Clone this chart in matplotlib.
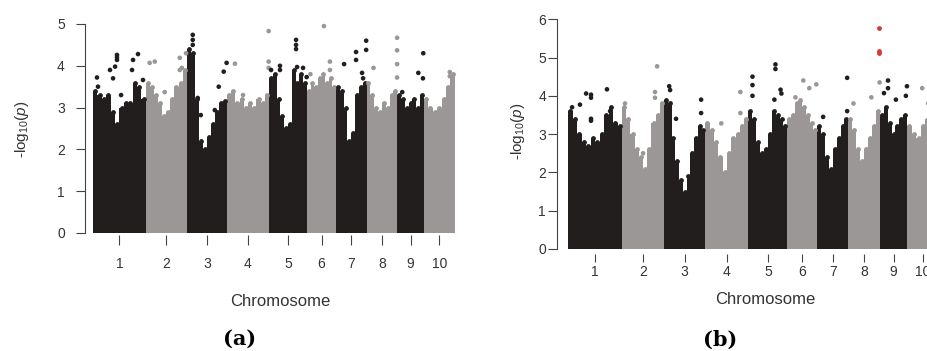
import numpy as np
import matplotlib
matplotlib.use("Agg")
import matplotlib.pyplot as plt

plt.rcParams["font.family"] = ["Liberation Sans", "DejaVu Sans"]
plt.rcParams["mathtext.fontset"] = "custom"
plt.rcParams["mathtext.rm"] = "Liberation Sans"
plt.rcParams["mathtext.it"] = "Liberation Sans:italic"

W, H = 928, 351
BLACK = "#221e1e"
GRAY = "#9a9796"
RED = "#d8392f"
TXT = "#333333"

CHROMS = [str(i) for i in range(1, 11)]
CHR_LEN = [308, 240, 235, 246, 222, 170, 178, 180, 155, 182]   # Mb

# upper edge of the dense point cloud, per chromosome (evenly spaced bins)
ENV_A = [
    [3.4, 3.3, 3.2, 3.3, 2.9, 2.6, 3.0, 3.1, 3.1, 3.6, 3.5, 3.2],
    [3.6, 3.5, 3.3, 3.1, 2.8, 2.9, 3.2, 3.5, 3.6, 3.9],
    [4.4, 4.3, 3.2, 2.2, 2.0, 2.3, 2.6, 2.9, 3.1, 3.15],
    [3.3, 3.4, 3.1, 3.2, 3.0, 3.1, 3.0, 3.2, 3.1, 3.3],
    [3.7, 3.8, 3.2, 2.8, 2.5, 2.6, 3.9, 3.6, 3.8, 3.6],
    [3.4, 3.6, 3.5, 3.7, 3.8, 3.6, 3.7, 3.5],
    [3.5, 3.4, 3.0, 2.2, 2.4, 3.3, 3.5, 3.6],
    [3.6, 3.3, 3.0, 2.9, 3.1, 3.0, 3.3, 3.4],
    [3.3, 3.2, 3.0, 3.1, 3.2, 3.0, 3.3],
    [3.2, 3.0, 2.9, 3.0, 3.2, 3.5, 3.8],
]
ENV_B = [
    [3.6, 3.4, 3.0, 2.8, 2.7, 2.9, 2.8, 3.0, 3.5, 3.7, 3.3, 3.2],
    [3.7, 3.4, 3.0, 2.6, 2.4, 2.1, 2.6, 3.3, 3.5, 3.8],
    [3.9, 3.8, 2.9, 2.3, 1.8, 1.5, 1.9, 2.5, 2.9, 3.2, 3.1],
    [3.3, 3.1, 2.8, 2.4, 2.0, 2.5, 2.9, 3.0, 3.2, 3.4],
    [3.6, 3.4, 2.8, 2.5, 2.6, 3.0, 3.6, 3.5, 3.4, 3.2],
    [3.4, 3.5, 3.8, 3.9, 3.7, 3.5, 3.3, 3.1],
    [3.2, 3.0, 2.4, 2.1, 2.6, 2.9, 3.2, 3.4],
    [3.4, 3.1, 2.6, 2.3, 2.6, 2.9, 3.2, 3.6],
    [3.5, 3.7, 3.3, 3.0, 3.2, 3.4, 3.5],
    [3.2, 3.0, 2.9, 3.2, 3.4, 3.1, 3.0],
]

# single SNPs standing above the cloud: chromosome, position (Mb), -log10(p)
OUT_A_CHR = [1]*13 + [2]*7 + [3]*9 + [4]*5 + [5]*9 + [6]*4 + [7]*7 + [8]*5 + [9]*4 + [10]*2
OUT_A_POS = [23, 29, 99, 117, 129, 140, 140, 140, 164, 228, 234, 263, 292,
             23, 53, 111, 199, 199, 236, 211,
             35, 35, 35, 64, 82, 164, 187, 216, 233,
             47, 244, 244, 244, 94,
             64, 64, 12, 158, 158, 158, 164, 199, 220,
             99, 134, 134, 20,
             47, 117, 117, 176, 176, 152, 158,
             41, 179, 179, 179, 179,
             152, 123, 150, 29,
             152, 152]
OUT_A_VAL = [3.72, 3.5, 3.9, 3.7, 3.98, 4.26, 4.2, 4.14, 3.3, 3.9, 4.14, 4.28, 3.66,
             4.07, 4.1, 3.37, 4.19, 3.9, 4.3, 3.95,
             4.74, 4.62, 4.5, 3.23, 2.82, 2.94, 3.5, 3.86, 4.07,
             4.05, 4.83, 4.1, 3.95, 3.3,
             4.0, 3.9, 3.9, 4.62, 4.5, 4.4, 3.97, 3.95, 3.73,
             4.95, 4.1, 3.9, 3.8,
             4.04, 4.33, 4.14, 4.6, 4.38, 3.83, 3.7,
             3.95, 4.67, 4.37, 4.04, 3.72,
             4.3, 3.83, 3.7, 3.37,
             3.85, 3.75]

OUT_B_CHR = [1]*9 + [2]*5 + [3]*6 + [4]*3 + [5]*8 + [6]*4 + [7]*3 + [8]*3 + [9]*6 + [10]*2
OUT_B_POS = [103, 131, 131, 68, 222, 131, 131, 23, 240,
             200, 188, 188, 120, 17,
             29, 34, 68, 211, 211, 114,
             200, 200, 91,
             23, 23, 23, 154, 154, 183, 188, 148,
             91, 125, 165, 46,
             171, 171, 34,
             29, 131, 178,
             46, 46, 23, 154, 148, 91,
             86, 120]
OUT_B_VAL = [4.06, 4.03, 3.95, 3.77, 4.17, 3.4, 3.35, 3.7, 3.6,
             4.77, 4.1, 3.95, 2.5, 3.8,
             4.25, 4.15, 3.4, 3.9, 3.55, 1.4,
             4.1, 3.55, 3.28,
             4.5, 4.28, 4.0, 4.82, 4.7, 4.16, 4.06, 3.9,
             4.4, 4.2, 4.3, 3.96,
             4.47, 3.6, 3.45,
             3.8, 3.96, 4.35,
             4.4, 4.2, 4.07, 4.25, 4.0, 3.9,
             4.2, 3.8]

# significant SNPs highlighted in (b)
SIG_CHR = [8, 8, 8]
SIG_POS = [176, 176, 176]
SIG_VAL = [5.78, 5.18, 5.12]

starts = np.concatenate([[0], np.cumsum(CHR_LEN)[:-1]])
mids = starts + np.array(CHR_LEN) / 2
total = sum(CHR_LEN)


def manhattan(ax, env, o_chr, o_pos, o_val):
    for c in range(10):
        col = BLACK if c % 2 == 0 else GRAY
        e = np.array(env[c])
        w = CHR_LEN[c] / len(e)
        xc = starts[c] + w * (np.arange(len(e)) + 0.5)
        ax.bar(xc, e, width=w, color=col, linewidth=0, zorder=2)
        ax.scatter(xc, e, s=12, color=col, linewidths=0, zorder=3)
    oc = np.array(o_chr) - 1
    ox = starts[oc] + np.array(o_pos)
    cols = [BLACK if c % 2 == 0 else GRAY for c in oc]
    ax.scatter(ox, o_val, s=11, c=cols, linewidths=0, zorder=4)


def style(ax, ymax, xoff, xlen, xpad, ylen, ypad):
    ax.set_ylim(0, ymax + 0.1)
    ax.spines[["top", "right"]].set_visible(False)
    ax.spines["bottom"].set_visible(False)
    ax.spines["bottom"].set_position(("outward", xoff))
    ax.spines["left"].set_bounds(0, ymax)
    ax.spines["left"].set_color("#444444")
    ax.spines["left"].set_linewidth(0.8)
    ax.set_xticks(mids)
    ax.set_xticklabels(CHROMS)
    ax.set_yticks(range(0, ymax + 1))
    ax.tick_params(axis="x", length=xlen, pad=xpad, width=0.8, color="#444444",
                   labelsize=10, labelcolor=TXT)
    ax.tick_params(axis="y", length=ylen, pad=ypad, width=0.8, color="#444444",
                   labelsize=10, labelcolor=TXT)
    ax.set_facecolor("none")


def fx(x):
    return x / W


def fy(y):
    return 1 - y / H


fig = plt.figure(figsize=(W / 100, H / 100), dpi=100)

# (a)
axa = fig.add_axes([fx(85), fy(233), 373 / W, 213.2 / H])
manhattan(axa, ENV_A, OUT_A_CHR, OUT_A_POS, OUT_A_VAL)
axa.set_xlim(-47, total + 18)
style(axa, 5, 1.5, 7.2, 8.6, 6.5, 8)

# (b) -- cut off at the right edge, as in the source
axb = fig.add_axes([fx(557), fy(249), 385 / W, 233.6 / H])
manhattan(axb, ENV_B, OUT_B_CHR, OUT_B_POS, OUT_B_VAL)
sc = np.array(SIG_CHR) - 1
axb.scatter(starts[sc] + np.array(SIG_POS), SIG_VAL, s=12, color=RED, linewidths=0, zorder=5)
axb.set_xlim(-63, total + 17)
style(axb, 6, 3.6, 5.8, 2.2, 6.5, 1.5)

ylab = r"-log$_{10}$($p$)"
fig.text(fx(22), fy(129), ylab, rotation=90, ha="center", va="center", fontsize=11, color=TXT)
fig.text(fx(518), fy(131), ylab, rotation=90, ha="center", va="center", fontsize=11, color=TXT)
fig.text(fx(280), fy(302), "Chromosome", ha="center", va="center", fontsize=12, color=TXT)
fig.text(fx(765), fy(299), "Chromosome", ha="center", va="center", fontsize=12, color=TXT)
fig.text(fx(240), fy(339), "(a)", ha="center", va="center", fontsize=15,
         family="DejaVu Serif", fontweight="bold", color="black")
fig.text(fx(720), fy(340), "(b)", ha="center", va="center", fontsize=15,
         family="DejaVu Serif", fontweight="bold", color="black")

fig.savefig("out.png", dpi=100)
